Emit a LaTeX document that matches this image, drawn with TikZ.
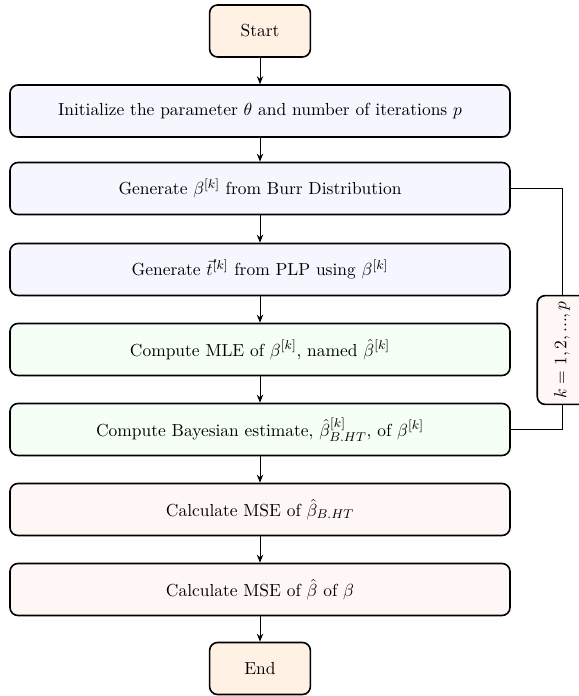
\documentclass[tikz,border=0pt]{standalone}
\usetikzlibrary{arrows.meta}
\definecolor{termc}{HTML}{FFF1E4}
\definecolor{bluec}{HTML}{F6F6FF}
\definecolor{greenc}{HTML}{F6FFF6}
\definecolor{pinkc}{HTML}{FFF6F6}
\begin{document}
\begin{tikzpicture}[x=0.625pt,y=-0.625pt,
  every node/.style={font=\fontsize{10.9}{13}\selectfont},
  box/.style={draw, line width=1pt, rounded corners=5pt, minimum width=312.5pt, minimum height=32.5pt, align=center, inner sep=2pt},
  term/.style={box, minimum width=63pt, fill=termc},
  bbox/.style={box, fill=bluec},
  gbox/.style={box, fill=greenc},
  pbox/.style={box, fill=pinkc},
  loopbox/.style={draw, line width=1pt, rounded corners=5pt, fill=pinkc, rotate=90, minimum width=68pt, minimum height=31pt, inner sep=2pt},
  arr/.style={-{Stealth[length=5pt,width=4pt]}, line width=0.6pt},
  ln/.style={line width=0.6pt}]
\useasboundingbox (0,0) rectangle (578,696);
\node[term] (s) at (260,31) {Start};
\node[bbox] (b1) at (260,111) {Initialize the parameter $\theta$ and number of iterations $p$};
\node[bbox] (b2) at (260,188.5) {Generate $\beta^{[k]}$ from Burr Distribution};
\node[bbox] (b3) at (260,269.5) {Generate $\vec{t}^{[k]}$ from PLP using $\beta^{[k]}$};
\node[gbox] (b4) at (260,349.5) {Compute MLE of $\beta^{[k]}$, named $\hat{\beta}^{[k]}$};
\node[gbox] (b5) at (260,429.5) {Compute Bayesian estimate, $\hat{\beta}^{[k]}_{B.HT}$, of $\beta^{[k]}$};
\node[pbox] (b6) at (260,509.5) {Calculate MSE of $\hat{\beta}_{B.HT}$};
\node[pbox] (b7) at (260,589.5) {Calculate MSE of $\hat{\beta}$ of $\beta$};
\node[term] (e) at (260,668.5) {End};
\node[loopbox] (k) at (562,350) {$k=1,2,...,p$};
\draw[arr] (s) -- (b1);
\draw[arr] (b1) -- (b2);
\draw[arr] (b2) -- (b3);
\draw[arr] (b3) -- (b4);
\draw[arr] (b4) -- (b5);
\draw[arr] (b5) -- (b6);
\draw[arr] (b6) -- (b7);
\draw[arr] (b7) -- (e);
\draw[ln] (b2.east) -| (k.east);
\draw[ln] (k.west) |- (b5.east);
\end{tikzpicture}
\end{document}
